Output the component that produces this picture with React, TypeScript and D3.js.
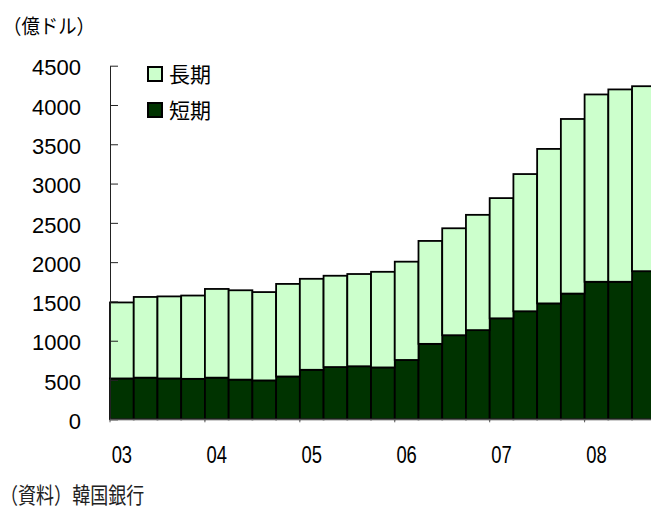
import React, { useEffect, useRef } from 'react'
import * as d3 from 'd3'

// quarterly, 03Q1 .. 08Q3 (億ドル)
const quarters = [
  '03Q1', '03Q2', '03Q3', '03Q4',
  '04Q1', '04Q2', '04Q3', '04Q4',
  '05Q1', '05Q2', '05Q3', '05Q4',
  '06Q1', '06Q2', '06Q3', '06Q4',
  '07Q1', '07Q2', '07Q3', '07Q4',
  '08Q1', '08Q2', '08Q3',
]
const shortTerm = [
  520, 530, 520, 515,
  530, 505, 495, 545,
  630, 665, 675, 660,
  755, 960, 1070, 1135,
  1285, 1375, 1475, 1600,
  1750, 1750, 1885,
]
const longTerm = [
  967, 1027, 1044, 1060,
  1129, 1137, 1124, 1178,
  1158, 1162, 1174, 1217,
  1251, 1310, 1361, 1467,
  1530, 1746, 1966, 2222,
  2384, 2448, 2354,
]
const yearLabels = ['03', '04', '05', '06', '07', '08']
const yTicks = [0, 500, 1000, 1500, 2000, 2500, 3000, 3500, 4000, 4500]

const width = 651
const height = 511
const numFont = '"Liberation Sans", Arial, sans-serif'
const jpFont = '"Noto Sans CJK JP", sans-serif'

function App() {
  const svgRef = useRef(null)

  useEffect(() => {
    const svg = d3.select(svgRef.current)
    svg.selectAll('*').remove()

    const x = d3.scaleBand()
      .domain(quarters)
      .range([110, 110 + 23.73 * quarters.length])
      .padding(0)

    const y = d3.scaleLinear()
      .domain([0, 4500])
      .range([419.3, 65.7])

    const data = quarters.map((q, i) => ({ q, short: shortTerm[i], long: longTerm[i] }))
    const stacked = d3.stack().keys(['short', 'long'])(data)
    const colors = { short: '#003300', long: '#ccffcc' }

    const plot = svg.append('g')
    stacked.forEach(layer => {
      plot.append('g')
        .selectAll('rect')
        .data(layer)
        .enter().append('rect')
        .attr('x', (d, i) => x(quarters[i]))
        .attr('y', d => y(d[1]))
        .attr('width', x.bandwidth())
        .attr('height', d => y(d[0]) - y(d[1]))
        .style('fill', colors[layer.key])
        .style('stroke', '#000')
        .style('stroke-width', 1.8)
    })

    // y axis, ticks pointing inward
    svg.append('g')
      .attr('transform', 'translate(110,0)')
      .call(d3.axisLeft(y).tickValues(yTicks).tickFormat(d3.format('d'))
        .tickSizeInner(-8).tickSizeOuter(0).tickPadding(29))
      .call(g => g.selectAll('line, path').style('stroke', '#222'))
      .call(g => g.selectAll('text')
        .style('font-family', numFont)
        .style('font-size', '22px')
        .style('fill', '#000')
        .attr('dy', '0.42em'))

    // x axis baseline with year boundary ticks
    svg.append('line')
      .attr('x1', 110).attr('x2', width)
      .attr('y1', y(0)).attr('y2', y(0))
      .style('stroke', '#555')
      .style('stroke-width', 1.2)

    yearLabels.forEach((yr, i) => {
      const q = quarters[i * 4]
      const x0 = x(q)
      svg.append('line')
        .attr('x1', x0).attr('x2', x0)
        .attr('y1', y(0)).attr('y2', y(0) + 3)
        .style('stroke', '#555')
      svg.append('text')
        .attr('transform', `translate(${x0 + x.bandwidth() / 2},463) scale(0.8,1)`)
        .attr('text-anchor', 'middle')
        .style('font-family', numFont)
        .style('font-size', '23px')
        .text(yr)
    })

    // unit
    svg.append('text')
      .attr('transform', 'translate(3,34) scale(0.92,1)')
      .style('font-family', jpFont)
      .style('font-size', '20px')
      .text('（億ドル）')

    // legend
    const legend = [
      { label: '長期', color: colors.long, top: 67 },
      { label: '短期', color: colors.short, top: 103 },
    ]
    legend.forEach(l => {
      svg.append('rect')
        .attr('x', 148).attr('y', l.top)
        .attr('width', 14).attr('height', 14)
        .style('fill', l.color)
        .style('stroke', '#000')
        .style('stroke-width', 2)
      svg.append('text')
        .attr('x', 169).attr('y', l.top + 15)
        .style('font-family', jpFont)
        .style('font-size', '21px')
        .text(l.label)
    })

    // source
    svg.append('text')
      .attr('transform', 'translate(0,503) scale(0.82,1)')
      .style('font-family', jpFont)
      .style('font-size', '22px')
      .style('fill', '#222')
      .text('（資料）韓国銀行')
  }, [])

  return (
    <svg ref={svgRef} width={width} height={height}
      style={{ position: 'absolute', left: 0, top: 0, background: '#fff' }} />
  )
}

export default App
